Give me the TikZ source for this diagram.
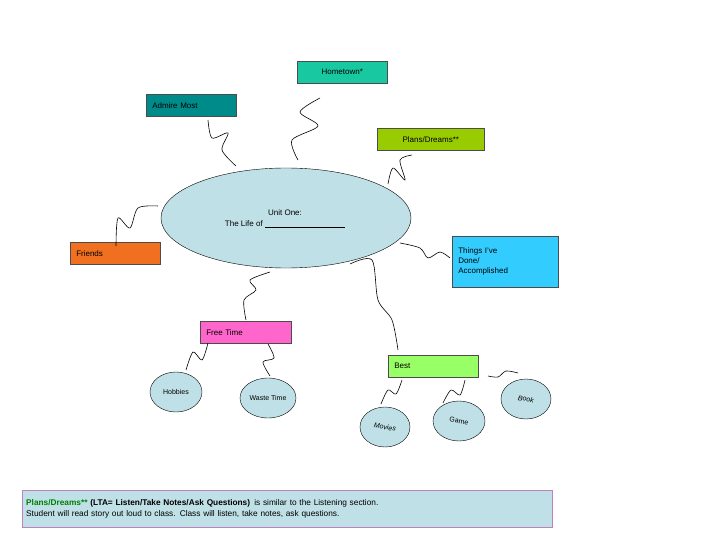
\documentclass[tikz,border=0pt]{standalone}
\usepackage{fontspec}
\setmainfont{Liberation Sans}
\usetikzlibrary{shapes.geometric}
\begin{document}
\begin{tikzpicture}[x=1pt,y=-1pt,
 box/.style={draw=black!70,line width=0.5pt,minimum height=22pt,inner xsep=6pt,anchor=north west,font=\fontsize{8}{10}\selectfont},
 bub/.style={draw=black,fill=bubc,ellipse,minimum width=52pt,minimum height=40pt,inner sep=0pt,font=\fontsize{7}{8}\selectfont},
 sq/.style={line width=0.6pt}]
\definecolor{bubc}{HTML}{BFE0E6}
\definecolor{ht}{HTML}{18C8A0}
\definecolor{am}{HTML}{008B8B}
\definecolor{pd}{HTML}{99CC00}
\definecolor{fr}{HTML}{F07020}
\definecolor{th}{HTML}{33CCFF}
\definecolor{ft}{HTML}{FF66CC}
\definecolor{be}{HTML}{99FF66}
\useasboundingbox (0,0) rectangle (720,540);
\node[box,fill=ht,minimum width=90pt] (ht) at (297,61) {Hometown*};
\node[box,fill=am,minimum width=90pt,align=left,text width=78pt] (am) at (146,94) {Admire Most};
\node[box,fill=pd,minimum width=107pt] (pd) at (377,128) {Plans/Dreams**};
\node[draw=black,fill=bubc,ellipse,minimum width=250pt,minimum height=100pt] (u) at (286,218) {};
\node[font=\fontsize{8}{11}\selectfont,align=center] (ut) at (285,219) {Unit One:\\The Life of \rule[-1pt]{80pt}{0.5pt}};
\node[box,fill=fr,minimum width=90pt,text width=78pt] (fr) at (70,242) {Friends};
\node[box,fill=th,minimum width=106pt,minimum height=51pt,text width=94pt,align=left] (th) at (452,236) {Things I've\\Done/\\Accomplished};
\node[box,fill=ft,minimum width=91pt,text width=79pt] (ft) at (200,321) {Free Time};
\node[box,fill=be,minimum width=90pt,text width=78pt] (be) at (388,355) {Best};
\node[bub] (hb) at (176,392) {Hobbies};
\node[bub,minimum width=56pt] (wt) at (268,398) {Waste Time};
\node[bub,minimum width=50pt] (mv) at (385,427) {\rotatebox{-10}{\itshape Movies}};
\node[bub] (gm) at (459,421) {\rotatebox{-10}{Game}};
\node[bub,minimum width=50pt] (bk) at (526,399) {\rotatebox{-10}{\itshape Book}};
\node[draw=violet!50,fill=bubc,minimum width=530pt,minimum height=37pt,anchor=north west,inner xsep=4pt,text width=522pt,align=left,font=\fontsize{8.3}{11}\selectfont] (nt) at (22,490)
 {\textbf{\textcolor{green!50!black}{Plans/Dreams**} (LTA= Listen/Take Notes/Ask Questions)}\enspace is similar to the Listening section.\\Student will read story out loud to class.\enspace Class will listen, take notes, ask questions.};
% squiggles
\draw[sq] plot[smooth] coordinates {(298,160) (292,140) (318,126) (300,112) (320,98)};
\draw[sq] plot[smooth] coordinates {(236,166) (222,150) (228,133) (212,138) (208,120)};
\draw[sq] plot[smooth] coordinates {(388,184) (393,168) (405,180) (400,160) (412,155)};
\draw[sq] plot[smooth] coordinates {(116,246) (118,218) (130,228) (138,208) (158,206)};
\draw[sq] plot[smooth] coordinates {(400,243) (420,248) (428,258) (440,252) (450,258)};
\draw[sq] plot[smooth] coordinates {(246,320) (244,300) (256,290) (250,280) (270,272)};
\draw[sq] plot[smooth] coordinates {(350,264) (372,260) (378,300) (392,320) (398,350)};
\draw[sq] plot[smooth] coordinates {(186,370) (193,352) (202,360) (208,343)};
\draw[sq] plot[smooth] coordinates {(270,376) (263,362) (274,358) (268,344)};
\draw[sq] plot[smooth] coordinates {(381,404) (388,390) (396,394) (402,380)};
\draw[sq] plot[smooth] coordinates {(443,403) (451,390) (460,395) (465,380)};
\draw[sq] plot[smooth] coordinates {(488,376) (498,377) (506,371) (518,373)};
\end{tikzpicture}
\end{document}
